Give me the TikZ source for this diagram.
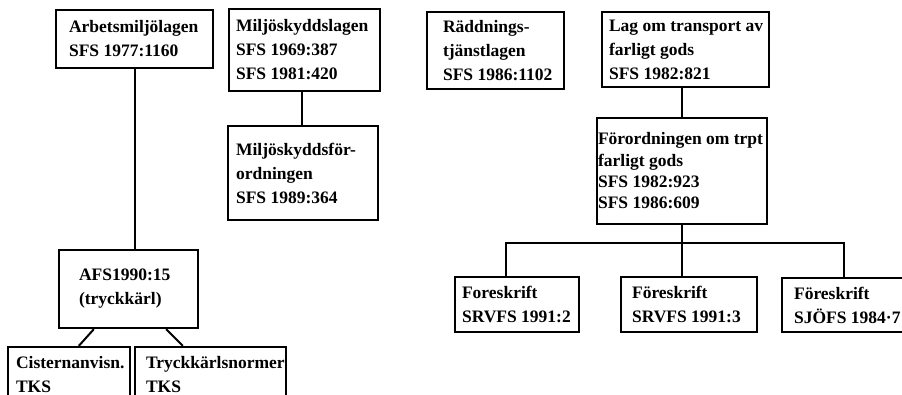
\documentclass[tikz,border=0pt]{standalone}
\usepackage{fontspec}
\setmainfont{Liberation Serif}
\usetikzlibrary{calc}
\tikzset{
  box/.style={draw=black, line width=2.3pt, rectangle, inner sep=0pt, fill=none},
  txt/.style={inner sep=0pt, align=left, font=\fontsize{17.5}{24}\selectfont\bfseries, text=black},
  conn/.style={draw=black, line width=2pt}
}
% #1 text options, #2 name, #3 x1, #4 y1, #5 x2, #6 y2, #7 pad, #8 text
\newcommand\rbox[8][]{%
  \node[box, minimum width={(#5-#3)*1pt}, minimum height={(#6-#4)*1pt}]
    (#2) at ({(#3+#5)/2},{(#4+#6)/2}) {};
  \node[txt, anchor=west, #1] (#2t) at ($(#2.west)+(#7,0)$) {#8};
}
\begin{document}
\begin{tikzpicture}[x=1pt, y=-1pt]
\useasboundingbox (0,0) rectangle (902,395);
\fill[white] (0,0) rectangle (902,395);
\clip (0,0) rectangle (902,395);

\rbox{A}{56}{10}{213}{68}{14}{Arbetsmiljölagen\\SFS 1977:1160}
\rbox{B}{229}{9}{380}{91}{8}{Miljöskyddslagen\\SFS 1969:387\\SFS 1981:420}
\rbox{C}{228}{126}{378}{220}{9}{Miljöskyddsför-\\ordningen\\SFS 1989:364}
\rbox{D}{59}{250}{198}{328}{21}{AFS1990:15\\(tryckkärl)}
\rbox{E}{8}{347}{130}{403}{9}{Cisternanvisn.\\TKS}
\rbox{F}{135}{347}{286}{403}{12}{Tryckkärlsnormer\\TKS}
\rbox{G}{427}{12}{564}{89}{17}{Räddnings-\\tjänstlagen\\SFS 1986:1102}
\rbox{H}{602}{12}{769}{87}{8}{Lag om transport av\\farligt gods\\SFS 1982:821}
\rbox[font=\fontsize{17.5}{21.3}\selectfont\bfseries]{I}{597}{118}{767}{224}{2}{Förordningen om trpt\\farligt gods\\SFS 1982:923\\SFS 1986:609}
\rbox{J}{455}{277}{579}{332}{8}{Foreskrift\\SRVFS 1991:2}
\rbox{K}{621}{277}{757}{332}{12}{Föreskrift\\SRVFS 1991:3}
\rbox{L}{782}{278}{915}{332}{13}{Föreskrift\\SJÖFS 1984·7}

% left tree
\draw[conn] (A.south) -- (A.south |- D.north);
\draw[conn] ($(B.south)+(-3,0)$) -- ($(B.south |- C.north)+(-3,0)$);
\draw[conn] ($(D.south west)+(36,0)$) -- ($(E.north west)+(72,0)$);
\draw[conn] ($(D.south east)+(-33,0)$) -- ($(F.north west)+(49,0)$);

% right tree
\draw[conn] (I.north) -- (I.north |- H.south);
\draw[conn] (I.south) -- ++(0,18) coordinate (bus);
\coordinate (jJ) at ($(J.north west)+(52,0)$);
\coordinate (jL) at ($(L.north west)+(63,0)$);
\draw[conn] (jJ) |- (bus) -| (jL);
\draw[conn] (bus) -- (bus |- K.north);
\end{tikzpicture}
\end{document}
